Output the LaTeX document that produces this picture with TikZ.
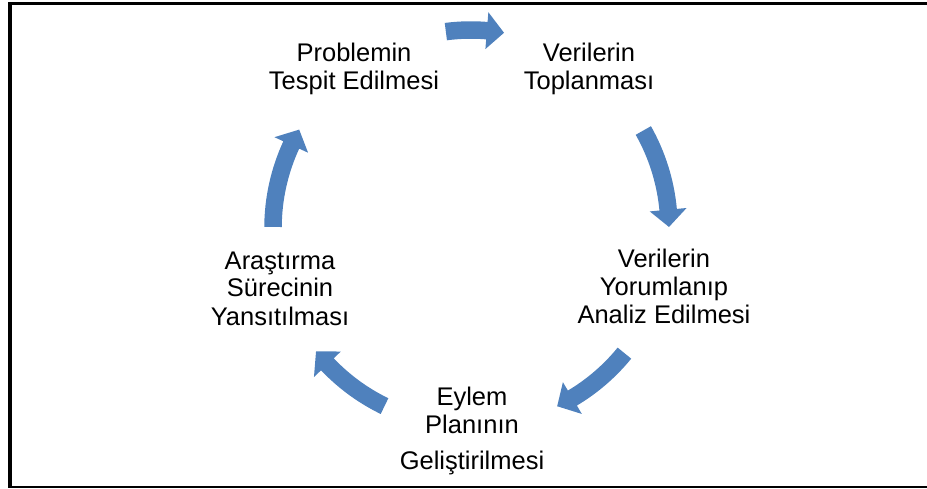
\documentclass[tikz,border=0pt]{standalone}
\usepackage{fontspec}
\setmainfont{Liberation Sans}
\definecolor{cycleblue}{RGB}{79,129,189}

% Ring geometry (pt): mid radius, shaft and head half-widths, head length in degrees
\def\Rr{198}
\def\Ro{206.75}
\def\Ri{189.25}
\def\Rho{216.5}
\def\Rhi{179.5}
\def\headang{5}

% Curved block arrow running clockwise from angle #1 (tail) to angle #2 (tip)
\newcommand\cycarrow[2]{%
  \pgfmathsetmacro\hb{#2+\headang}%
  \fill[cyclearrow] (#1:\Ro) arc[start angle=#1, end angle=\hb, radius=\Ro]
    -- (\hb:\Rho) -- (#2:\Rr) -- (\hb:\Rhi) -- (\hb:\Ri)
    arc[start angle=\hb, end angle=#1, radius=\Ri] -- cycle;}

\tikzset{
  lbl/.style={font=\fontsize{25.5}{28}\selectfont, align=center, inner sep=0pt, anchor=base},
  cyclearrow/.style={fill=cycleblue, draw=none},
  frameline/.style={fill=black, draw=none},
}

\begin{document}
\begin{tikzpicture}[x=1pt, y=1pt]
  \useasboundingbox (0,0) rectangle (927,488);

  % frame
  \fill[frameline] (8,483) rectangle (927,486);
  \fill[frameline] (8,0) rectangle (12,486);
  \fill[frameline] (8,0) rectangle (927,2);

  % cycle arrows
  \begin{scope}[shift={(471,260)}]
    \cycarrow{97.3}{80.4}
    \cycarrow{29.5}{0.3}
    \cycarrow{-39.2}{-64.2}
    \cycarrow{-115.9}{-141.5}
    \cycarrow{179.7}{150.2}
  \end{scope}

  % stage labels
  \node[lbl] (problem) at (354,398.7) {Problemin\\Tespit Edilmesi};
  \node[lbl] (collect) at (589,398.7) {Verilerin\\Toplanması};
  \node[lbl] (analyse) at (664,164.7) {Verilerin\\Yorumlanıp\\Analiz Edilmesi};
  \node[lbl] (plan) at (472,18.7) {Eylem\\Planının\\[8pt]Geliştirilmesi};
  \node[lbl] (reflect) at (280,163) {Araştırma\\Sürecinin\\Yansıtılması};
\end{tikzpicture}
\end{document}
